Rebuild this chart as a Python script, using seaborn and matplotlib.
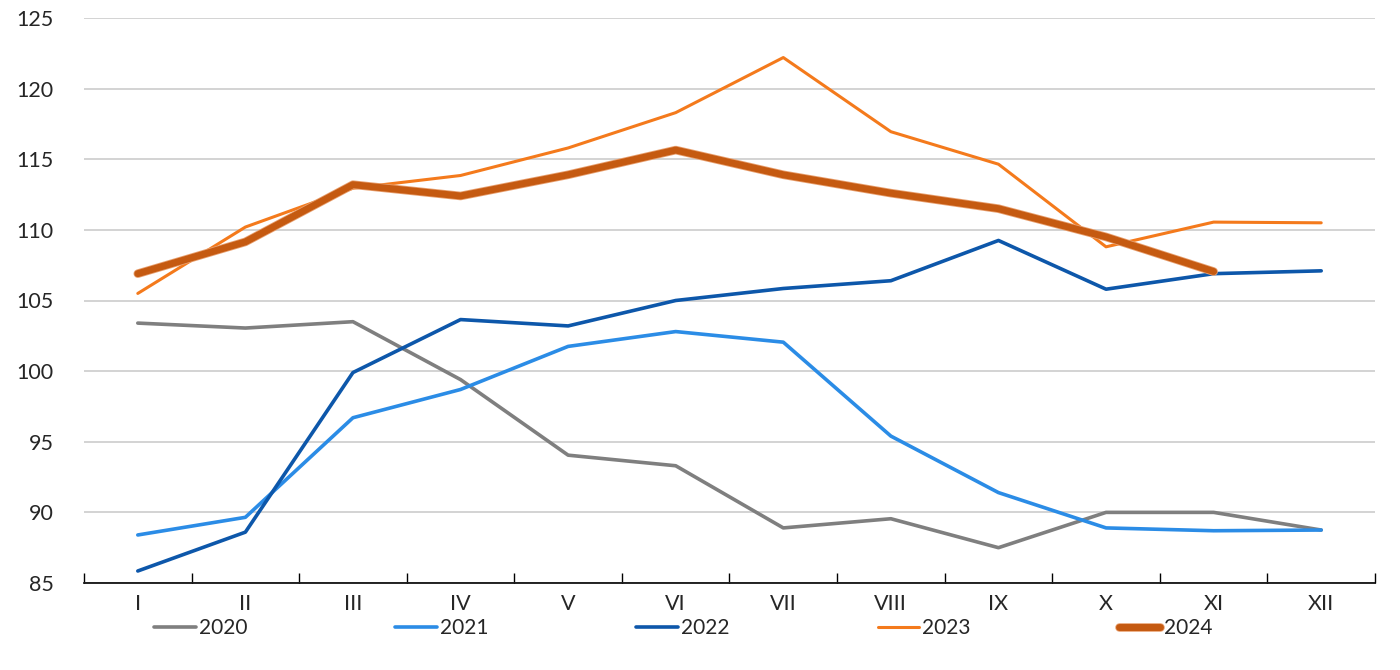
import numpy as np
import pandas as pd
import matplotlib
matplotlib.use("Agg")
import matplotlib.pyplot as plt
import matplotlib.patheffects as pe
import seaborn as sns

months = ["I", "II", "III", "IV", "V", "VI", "VII", "VIII", "IX", "X", "XI", "XII"]

y2020 = [103.4, 103.05, 103.5, 99.4, 94.05, 93.3, 88.9, 89.55, 87.5, 90.0, 90.0, 88.75]
y2021 = [88.4, 89.65, 96.7, 98.7, 101.75, 102.8, 102.05, 95.4, 91.4, 88.9, 88.7, 88.75]
y2022 = [85.85, 88.6, 99.9, 103.65, 103.2, 105.0, 105.85, 106.4, 109.25, 105.8, 106.9, 107.1]
y2023 = [105.5, 110.2, 112.95, 113.85, 115.8, 118.3, 122.2, 116.95, 114.65, 108.8, 110.55, 110.5]
y2024 = [106.9, 109.15, 113.2, 112.4, 113.9, 115.65, 113.9, 112.6, 111.5, 109.5, 107.05, np.nan]

series = {"2020": y2020, "2021": y2021, "2022": y2022, "2023": y2023, "2024": y2024}
colors = {"2020": "#7f7f7f", "2021": "#2b8ce6", "2022": "#0d57aa", "2023": "#f47a1c", "2024": "#c55a11"}
widths = {"2020": 2.6, "2021": 2.6, "2022": 2.6, "2023": 2.2, "2024": 5.0}

sns.set_style("white")
plt.rcParams["font.family"] = ["Lato", "DejaVu Sans"]

fig = plt.figure(figsize=(14, 6.7), dpi=100)
ax = fig.add_axes([84 / 1400, 1 - 583 / 670, (1375 - 84) / 1400, (583 - 18) / 670])

x = np.arange(len(months))
for name, vals in series.items():
    df = pd.DataFrame({"x": x, "y": vals}).dropna()
    kw = {}
    if name == "2024":
        kw["path_effects"] = [pe.Stroke(linewidth=6.2, foreground="#e8a070"), pe.Normal()]
    sns.lineplot(data=df, x="x", y="y", ax=ax, color=colors[name], linewidth=widths[name],
                 label=name, solid_capstyle="round", **kw)

ax.set_xlim(-0.5, 11.5)
ax.set_ylim(85, 125)
ax.set_yticks(np.arange(85, 126, 5))
ax.set_xticks(x)
ax.set_xticklabels(months)
ax.set_xticks(np.arange(-0.5, 12, 1), minor=True)
ax.tick_params(axis="x", which="major", length=0, labelsize=15.5, pad=8)
ax.tick_params(axis="x", which="minor", bottom=True, length=7, direction="in", color="black", width=1)
ax.tick_params(axis="y", length=0, labelsize=15.5, pad=22)
ax.set_xlabel("")
ax.set_ylabel("")
ax.grid(axis="y", color="#cccccc", linewidth=1.2)
ax.set_axisbelow(True)
for s in ["left", "right", "top"]:
    ax.spines[s].set_visible(False)
ax.spines["bottom"].set_color("black")
ax.spines["bottom"].set_linewidth(1.2)

handles, labels = ax.get_legend_handles_labels()
ax.get_legend().remove()
fig.legend(handles, labels, loc="center", bbox_to_anchor=(683 / 1400, 1 - 628 / 670), ncol=5,
           frameon=False, fontsize=15, handlelength=2.0, handletextpad=0.15, columnspacing=7.1)

fig.savefig("out.png", dpi=100)
